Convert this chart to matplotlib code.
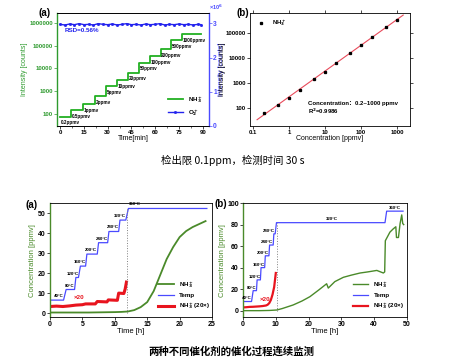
import matplotlib
matplotlib.use('Agg')
import matplotlib.pyplot as plt
import numpy as np

plt.rcParams['font.family'] = ['Liberation Sans', 'Noto Sans CJK SC', 'DejaVu Sans']
plt.rcParams['font.weight'] = 'bold'
plt.rcParams['axes.linewidth'] = 0.6

# ---- data: top (a) time series ----
step_times = [0, 7, 14.6, 22, 29, 36, 43, 50, 57, 63.5, 70, 77, 89]
step_labels = ['0.2ppmv', '0.5ppmv', '1ppmv', '2ppmv', '5ppmv', '10ppmv', '20ppmv',
               '50ppmv', '100ppmv', '200ppmv', '500ppmv', '1000ppmv']
nh3_levels = [76, 150, 268, 617, 1700, 3160, 6600, 18000, 35000, 70000, 170000, 320000]
o2_times = [0, 3, 6, 9, 12, 15, 18, 21, 24, 27, 30, 33, 36, 39, 42, 45, 48, 51, 54,
            57, 60, 63, 66, 69, 72, 75, 78, 81, 84, 87, 89]
o2_values = [2.97, 2.95, 2.98, 2.96, 2.99, 2.96, 2.97, 2.95, 2.99, 2.97, 2.96, 2.98,
             2.95, 2.97, 2.99, 2.96, 2.97, 2.95, 2.98, 2.96, 2.97, 2.99, 2.95, 2.97,
             2.96, 2.98, 2.96, 2.97, 2.95, 2.97, 2.96]

# ---- data: top (b) calibration ----
conc = [0.2, 0.5, 1, 2, 5, 10, 20, 50, 100, 200, 500, 1000]
intensity = [63, 132, 250, 525, 1450, 2750, 6300, 16000, 33000, 69000, 175000, 330000]

# ---- data: bottom (a) catalyst 1 ----
temp_a_t = [0, 2.1, 2.5, 3.8, 4.0, 4.4, 4.7, 5.5, 5.7, 7.3, 7.5, 8.9, 9.1, 10.6, 10.8,
            11.7, 12.1, 24.2]
temp_a_v = [6.5, 6.5, 11.8, 11.8, 17.8, 17.8, 23.5, 23.5, 29.5, 29.5, 35.2, 35.2,
            40.8, 40.8, 46.5, 46.5, 52.3, 52.3]
temp_a_labels = ['40°C', '80°C', '120°C', '160°C', '200°C', '240°C', '280°C', '320°C']
nh3_a_t = [0, 2, 4, 6, 8, 10, 11, 12, 13, 14, 15, 16, 17, 18, 19, 20, 21, 22, 23, 24]
nh3_a_v = [0.3, 0.3, 0.3, 0.3, 0.4, 0.5, 0.6, 0.8, 1.5, 3, 5.5, 11, 19, 27, 33, 38,
           41, 43, 44.5, 46]
red_a_t = [0, 1, 2, 3, 4, 5, 5.5, 7, 7.3, 8.8, 9, 10.4, 10.6, 11.4, 11.6, 11.8]
red_a_v = [3.3, 3.5, 3.3, 3.6, 4.0, 4.2, 4.6, 4.6, 5.8, 5.6, 6.6, 6.4, 10.0, 9.8, 12, 15.5]

# ---- data: bottom (b) catalyst 2 ----
temp_b_t = [0, 2.6, 3.1, 4.1, 4.3, 5.3, 5.5, 6.6, 6.8, 7.9, 8.1, 9.2, 9.4, 9.8, 10.2,
            43.3, 43.8, 48.8]
temp_b_v = [8.5, 8.5, 18.6, 18.6, 28.6, 28.6, 40, 40, 51, 51, 61, 61, 71.4, 71.4,
            81.8, 81.8, 92.5, 92.5]
temp_b_labels = ['40°C', '80°C', '120°C', '160°C', '200°C', '240°C', '280°C']
nh3_b_t = [0, 5, 8, 10.3, 12, 15.3, 18, 20.4, 23, 25.5, 26, 28, 30.6, 33, 35.7, 38,
           40.8, 42.8, 43.2, 43.4, 44.8, 45.8, 46.6, 46.8, 47.4, 47.9, 48.4, 48.7, 49]
nh3_b_v = [0, 0, 0.2, 0.6, 2, 5.3, 9, 13, 19, 25, 21, 27, 31, 33, 35, 36, 37.4, 35,
           36, 65, 73, 76, 78, 68, 68, 81, 89, 81, 80]
red_b_t = [0, 1, 2, 3, 4, 5, 6, 7, 7.5, 8, 8.5, 9, 9.5, 10]
red_b_v = [3, 3.2, 3.5, 3.6, 3.8, 4, 4.3, 4.8, 5.5, 7, 10, 15, 22, 35]

fig = plt.figure(figsize=(4.58, 3.62), dpi=100)
fs = 4.3
green = '#2e9a2e'
olive = '#4a8a2a'
blue = '#4a4aff'

''' - - - - - top left - - - - - '''
ax1 = fig.add_axes([0.1245, 0.652, 0.332, 0.312])
levels = nh3_levels + [nh3_levels[-1]]
ax1.step(step_times, levels, where='post', color='#22b022', lw=1.3,
         label='NH$_3^+$')
ax1.set_yscale('log')
ax1.set_ylim(30, 2.7e6)
ax1.set_xlim(-2, 94)
ax1.set_yticks([100, 1000, 10000, 100000, 1000000])
ax1.set_yticklabels(['100', '1000', '10000', '100000', '1000000'])
ax1.yaxis.set_minor_locator(matplotlib.ticker.NullLocator())
ax1.set_xticks(range(0, 91, 15))
ax1.set_xticks(np.arange(7.5, 91, 15), minor=True)
ax1.tick_params(labelsize=fs, length=2, width=0.5, pad=1)
ax1.tick_params(axis='y', colors=green, labelcolor=green)
ax1.tick_params(which='minor', length=1.2, width=0.4)
ax1.spines['left'].set_color(green)
ax1.spines['left'].set_linewidth(1)
ax1.set_xlabel('Time[min]', fontsize=5, labelpad=0)
ax1.set_ylabel('Intensity [counts]', fontsize=5, color=green, labelpad=1)
for t, lv, lab in zip(step_times[:-1], nh3_levels, step_labels):
    ax1.text(t + 0.3, lv / 1.45, lab, fontsize=3.3, va='top', ha='left')

ax1r = ax1.twinx()
ax1r.plot(o2_times, o2_values, color='#2323ee', lw=1.0, marker='s', markersize=1,
          label='O$_2^+$')
ax1r.set_ylim(0, 3.3)
ax1r.set_yticks([0, 1, 2, 3])
ax1r.set_yticklabels(['0', '1', '2', '3'])
ax1r.tick_params(labelsize=fs + 0.5, length=2, width=0.5, pad=1, colors=blue,
                 labelcolor=blue)
ax1r.spines['right'].set_color(blue)
ax1r.spines['right'].set_linewidth(1)
ax1r.spines['left'].set_visible(False)
ax1r.set_ylabel('Intensity [counts]', fontsize=5, color=blue, labelpad=1)
ax1r.text(1.0, 1.01, '×10$^6$', transform=ax1r.transAxes, fontsize=4, color=blue,
          ha='left', va='bottom')
ax1r.text(3, 2.78, 'RSD=0.56%', fontsize=4.5, color='#2323ee', va='center')
h1, l1 = ax1.get_legend_handles_labels()
h2, l2 = ax1r.get_legend_handles_labels()
ax1r.legend(h1 + h2, l1 + l2, loc='lower right', fontsize=4.5, frameon=False,
            handlelength=2.5, bbox_to_anchor=(1.0, 0.02))
fig.text(0.083, 0.965, '(a)', fontsize=7, va='center')

''' - - - - - top right - - - - - '''
ax2 = fig.add_axes([0.546, 0.652, 0.349, 0.312])
coef = np.polyfit(np.log10(conc), np.log10(intensity), 1)
fit_x = np.array([0.13, 1500])
ax2.plot(fit_x, 10 ** np.polyval(coef, np.log10(fit_x)), color='#e84a5a', lw=0.8)
ax2.plot(conc, intensity, 's', color='black', markersize=1.4, label='NH$_3^+$')
ax2.set_xscale('log')
ax2.set_yscale('log')
ax2.set_xlim(0.083, 2300)
ax2.set_ylim(19, 6.3e5)
ax2.set_xticks([0.1, 1, 10, 100, 1000])
ax2.set_xticklabels(['0.1', '1', '10', '100', '1000'])
ax2.set_yticks([100, 1000, 10000, 100000])
ax2.set_yticklabels(['100', '1000', '10000', '100000'])
ax2.xaxis.set_minor_locator(matplotlib.ticker.NullLocator())
ax2.yaxis.set_minor_locator(matplotlib.ticker.NullLocator())
ax2.tick_params(labelsize=fs, length=2, width=0.5, pad=1, top=True, right=True)
ax2.set_xlabel('Concentration [ppmv]', fontsize=5, labelpad=0)
ax2.set_ylabel('Intensity [counts]', fontsize=5, labelpad=0)
ax2.legend(loc='upper left', fontsize=4.3, frameon=False, handletextpad=0.8,
           bbox_to_anchor=(0.0, 1.0))
ax2.text(0.36, 0.19, 'Concentration：0.2~1000 ppmv', transform=ax2.transAxes,
         fontsize=4.3)
ax2.text(0.36, 0.11, 'R$^2$=0.9986', transform=ax2.transAxes, fontsize=4.3)
fig.text(0.517, 0.965, '(b)', fontsize=7, va='center')

fig.text(0.508, 0.558, '检出限 0.1ppm，检测时间 30 s', fontsize=7.5,
         fontweight='normal', ha='center', va='center',
         family=['Noto Sans CJK SC', 'DejaVu Sans'])

''' - - - - - bottom left - - - - - '''
ax3 = fig.add_axes([0.109, 0.124, 0.354, 0.315])
ax3.plot(nh3_a_t, nh3_a_v, color=olive, lw=1.3, label='NH$_3^+$')
ax3.plot(temp_a_t, temp_a_v, color=blue, lw=0.9, label='Temp')
ax3.plot(red_a_t, red_a_v, color='#e8141e', lw=2.2, label='NH$_3^+$(20×)')
ax3.plot([11.9, 11.9], [0, 52.3], ':', color='gray', lw=0.7)
ax3.set_xlim(0, 25)
ax3.set_ylim(-2, 55)
ax3.set_xticks(range(0, 26, 5))
ax3.set_yticks(range(0, 51, 10))
ax3.tick_params(labelsize=fs + 0.7, length=2, width=0.5, pad=1)
ax3.spines['left'].set_color(olive)
ax3.spines['left'].set_linewidth(1)
ax3.set_xlabel('Time [h]', fontsize=5.5, labelpad=0)
ax3.set_ylabel('Concentration [ppmv]', fontsize=5.5, color=olive, labelpad=1)
for i, lab in enumerate(temp_a_labels):
    ax3.text(temp_a_t[2 * i + 1], temp_a_v[2 * i + 1] + 1, lab, fontsize=3.2,
             ha='right', va='bottom')
ax3.text(12.2, 53.3, '360°C', fontsize=3.2, ha='left', va='bottom')
ax3.text(3.6, 7.7, '×20', fontsize=4.5, color='#e8141e', va='center')
ax3.legend(loc='lower right', fontsize=4.5, frameon=False, handlelength=2.5,
           bbox_to_anchor=(1.02, 0.0))
fig.text(0.055, 0.434, '(a)', fontsize=7, va='center')

''' - - - - - bottom right - - - - - '''
ax4 = fig.add_axes([0.5306, 0.124, 0.358, 0.315])
ax4.plot(nh3_b_t, nh3_b_v, color=olive, lw=1.0, label='NH$_3^+$')
ax4.plot(temp_b_t, temp_b_v, color=blue, lw=0.9, label='Temp')
ax4.plot(red_b_t, red_b_v, color='#e8141e', lw=1.6, label='NH$_3^+$(20×)')
ax4.plot([10.3, 10.3], [0, 81.8], ':', color='gray', lw=0.7)
ax4.set_xlim(0, 50)
ax4.set_ylim(-6, 100)
ax4.set_xticks(range(0, 51, 10))
ax4.set_yticks(range(0, 101, 20))
ax4.tick_params(labelsize=fs + 0.7, length=2, width=0.5, pad=1)
ax4.spines['left'].set_color(olive)
ax4.spines['left'].set_linewidth(1)
ax4.set_xlabel('Time [h]', fontsize=5.5, labelpad=0)
ax4.set_ylabel('Concentration [ppmv]', fontsize=5.5, color=olive, labelpad=1)
for i, lab in enumerate(temp_b_labels):
    ax4.text(temp_b_t[2 * i + 1], temp_b_v[2 * i + 1] + 1, lab, fontsize=3.2,
             ha='right', va='bottom')
ax4.text(27, 83, '320°C', fontsize=3.2, ha='center', va='bottom')
ax4.text(44.5, 93.5, '360°C', fontsize=3.2, ha='left', va='bottom')
ax4.text(5.2, 10, '×20', fontsize=4.5, color='#e8141e', va='center')
ax4.legend(loc='lower right', fontsize=4.5, frameon=False, handlelength=2.5,
           bbox_to_anchor=(1.02, 0.0))
fig.text(0.468, 0.436, '(b)', fontsize=7, va='center')

fig.text(0.505, 0.028, '两种不同催化剂的催化过程连续监测', fontsize=7.5,
         fontweight='bold', ha='center', va='center',
         family=['Noto Sans CJK SC', 'DejaVu Sans'])

fig.savefig('out.png', dpi=100)
